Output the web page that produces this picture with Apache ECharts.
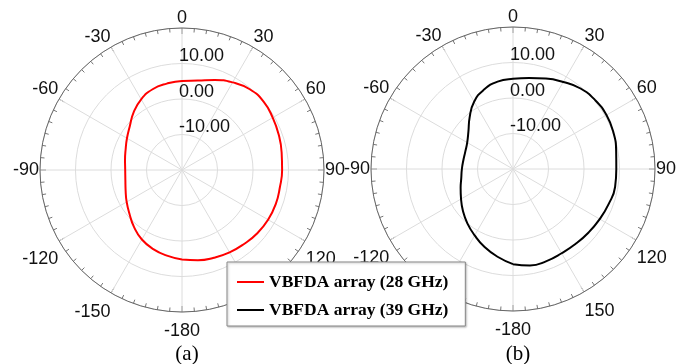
<!DOCTYPE html>
<html>
<head>
<meta charset="utf-8">
<script src="https://cdn.jsdelivr.net/npm/echarts@6/dist/echarts.min.js"></script>
<style>
  html, body { margin: 0; padding: 0; background: #fff; }
  #chart { width: 688px; height: 364px; }
</style>
</head>
<body>
<div id="chart"></div>
<script>
// angle in degrees (0 = top, clockwise), gain in dB
const angles = [-180, -170, -160, -150, -140, -130, -120, -110, -100, -90, -80, -70, -60, -50, -40, -30, -20, -10,
  0, 10, 20, 30, 40, 50, 60, 70, 80, 90, 100, 110, 120, 130, 140, 150, 160, 170, 180]

const gain28 = [5.2, 4.5, 3.7, 2.6, 1.0, -0.7, -2.0, -3.1, -3.8, -4.0, -3.7, -3.1, -2.1, -0.8, 1.2, 3.0, 4.2, 4.7,
  5.1, 5.6, 7.0, 8.5, 9.7, 10.0, 9.5, 9.0, 8.5, 8.2, 8.0, 8.1, 8.0, 7.7, 7.2, 6.8, 6.3, 5.8, 5.2]

const gain39 = [6.8, 5.1, 3.4, 1.6, 0.0, -1.6, -3.1, -4.3, -5.2, -5.6, -5.8, -5.7, -5.1, -3.6, -1.0, 1.9, 3.8, 5.0,
  5.4, 6.0, 7.1, 8.3, 9.6, 10.2, 10.4, 10.1, 9.5, 9.1, 9.2, 8.7, 8.2, 7.8, 7.5, 7.4, 7.6, 7.6, 6.8]

const radiusTicks = [-20, -10, 0, 10, 20]
const radiusTickLabels = ['', '-10.00', '0.00', '10.00', '']
const angleTickLabels = ['0', '30', '60', '90', '120', '150', '-180', '-150', '-120', '-90', '-60', '-30']

const seriesNames = ['VBFDA array (28 GHz)', 'VBFDA array (39 GHz)']
const panelLabels = ['(a)', '(b)']

const centers = [[182, 170], [513, 169]]

// polar line data is [radius, angle]; angles shifted into 0..360
const toPolar = gains => angles.map((a, i) => [gains[i], (a + 360) % 360])

const chart = echarts.init(document.getElementById('chart'))

const angleAxis = i => ({
  polarIndex: i,
  type: 'value',
  min: 0,
  max: 360,
  interval: 30,
  startAngle: 90,
  clockwise: true,
  axisLine: { lineStyle: { color: '#666', width: 1 } },
  axisTick: { inside: true, length: 6, lineStyle: { color: '#666' } },
  minorTick: { show: true, splitNumber: 6, length: 4, lineStyle: { color: '#777' } },
  axisLabel: {
    margin: 1,
    fontSize: 18,
    fontFamily: 'Liberation Sans',
    color: '#111',
    padding: [9, 0, 0, 0],
    formatter: v => angleTickLabels[Math.round(v / 30) % 12],
  },
  splitLine: { show: true, lineStyle: { color: '#dcdcdc' } },
})

const radiusAxis = i => ({
  polarIndex: i,
  type: 'value',
  min: -20,
  max: 20,
  interval: 10,
  axisLine: { show: false },
  axisTick: { show: false },
  axisLabel: {
    inside: true,
    margin: 3,
    fontSize: 18,
    fontFamily: 'Liberation Sans',
    color: '#111',
    align: 'left',
    verticalAlign: 'bottom',
    lineHeight: 14,
    formatter: v => radiusTickLabels[radiusTicks.indexOf(v)],
  },
  splitLine: { show: true, lineStyle: { color: '#dcdcdc' } },
})

chart.setOption({
  animation: false,
  title: panelLabels.map((t, i) => ({
    text: t,
    left: centers[i][0],
    top: 339,
    textAlign: 'center',
    textStyle: { fontFamily: 'Liberation Serif', fontWeight: 'normal', fontSize: 21, color: '#000' },
  })),
  legend: {
    orient: 'vertical',
    left: 227,
    top: 262,
    z: 10,
    icon: 'rect',
    itemWidth: 27,
    itemHeight: 2,
    itemGap: 10,
    padding: [11, 17, 7, 10],
    backgroundColor: '#fff',
    borderColor: '#888',
    borderWidth: 1,
    shadowColor: 'rgba(0,0,0,0.25)',
    shadowBlur: 2,
    shadowOffsetX: 1,
    shadowOffsetY: 1,
    textStyle: { fontFamily: 'Liberation Serif', fontWeight: 'bold', fontSize: 17.5, color: '#000' },
    data: seriesNames,
  },
  polar: centers.map(c => ({ center: c, radius: 142 })),
  angleAxis: [angleAxis(0), angleAxis(1)],
  radiusAxis: [radiusAxis(0), radiusAxis(1)],
  series: [
    {
      name: seriesNames[0],
      type: 'line',
      coordinateSystem: 'polar',
      polarIndex: 0,
      symbol: 'none',
      smooth: true,
      lineStyle: { color: '#ff0000', width: 2 },
      itemStyle: { color: '#ff0000' },
      data: toPolar(gain28),
    },
    {
      name: seriesNames[1],
      type: 'line',
      coordinateSystem: 'polar',
      polarIndex: 1,
      symbol: 'none',
      smooth: true,
      lineStyle: { color: '#000', width: 2 },
      itemStyle: { color: '#000' },
      data: toPolar(gain39),
    },
  ],
})
</script>
</body>
</html>
